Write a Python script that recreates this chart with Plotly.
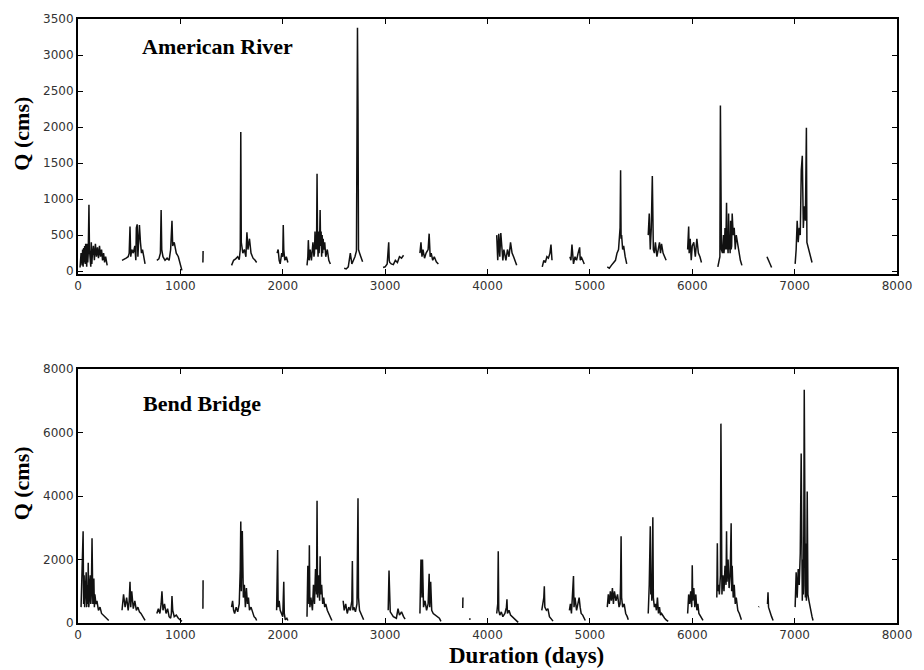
import plotly.graph_objects as go
from plotly.subplots import make_subplots

# ---------------- American River (cms) ----------------
am_day = [
    20,30,40,45,50,55,60,65,70,75,80,85,90,95,100,107,112,120,125,130,135,140,150,160,170,180,190,200,210,220,230,240,250,260,270,285, None,
    430,450,470,490,500,508,515,525,540,555,565,570,578,585,590,600,610,620,630,645,655, None,
    770,790,805,812,818,830,850,870,890,905,918,925,940,960,980,1000,1015, None,
    1220,1222, None,
    1500,1510,1520,1540,1560,1575,1585,1590,1595,1610,1625,1640,1650,1660,1675,1690,1710,1730,1745, None,
    1945,1955,1965,1975,1990,2000,2005,2010,2020,2035,2050, None,
    2237,2245,2250,2258,2268,2280,2295,2305,2310,2315,2320,2325,2330,2335,2340,2345,2350,2355,2360,2365,2370,2375,2380,2385,2390,2395,2400,2410,2420,2435,2450,2465,2480, None,
    2600,2620,2640,2660,2675,2690,2705,2720,2730,2735,2740,2750,2765,2780,2795, None,
    2980,3000,3020,3035,3040,3045,3060,3080,3100,3120,3140,3160,3180,3195, None,
    3340,3350,3360,3370,3385,3400,3420,3430,3440,3450,3465,3480,3500,3520,3540, None,
    3770,3780, None, 3826,3830, None, 3990,4000, None,
    4090,4100,4110,4120,4130,4140,4150,4160,4170,4180,4195,4210,4225,4240,4255,4270,4285,4300, None,
    4535,4550,4565,4580,4595,4610,4620,4630,4640, None,
    4805,4815,4825,4832,4840,4855,4870,4885,4900,4906,4915,4930,4945,4955, None,
    4995,5000, None,
    5170,5190,5210,5230,5250,5265,5280,5295,5300,5305,5310,5320,5330,5345,5360,5375, None,
    5570,5580,5590,5600,5610,5615,5620,5630,5640,5655,5670,5680,5690,5700,5715,5730,5745,5765, None,
    5955,5965,5970,5980,5990,6000,6015,6030,6045,6060,6075,6090,6105, None,
    6250,6260,6270,6275,6280,6285,6295,6305,6310,6315,6320,6325,6330,6335,6340,6345,6350,6355,6360,6365,6370,6375,6380,6385,6390,6400,6410,6420,6430,6440,6455,6470,6485,6500, None,
    6640,6650, None, 6730,6740,6750,6760,6775,6790, None,
    7005,7015,7025,7035,7045,7055,7065,7075,7085,7095,7105,7115,7120,7130,7140,7150,7160,7170,7180,
]
am_q = [
    50,250,80,300,60,320,120,350,100,380,200,60,380,120,250,920,300,180,60,400,100,220,350,150,380,200,330,180,350,200,300,150,250,120,200,80, None,
    150,160,180,200,250,620,200,300,250,350,150,600,650,200,300,640,400,250,300,150,100, None,
    150,170,250,850,300,200,150,180,150,300,700,350,400,250,200,80,10, None,
    120,280, None,
    80,120,150,170,200,160,300,1930,400,250,300,200,540,300,450,250,180,150,120, None,
    250,300,150,100,250,200,640,300,150,200,120, None,
    80,200,430,150,300,150,400,200,250,550,300,500,300,1350,450,200,550,250,400,850,350,550,200,500,250,450,300,400,200,300,150,100, None,
    20,40,30,60,250,100,150,200,280,3380,2250,300,250,200,130, None,
    30,50,60,100,400,150,120,100,90,150,120,200,180,220, None,
    150,250,400,200,300,180,250,300,520,200,250,150,200,130,100, None,
    30,60, None, 100,180, None, 40,90, None,
    100,500,150,520,200,530,250,150,300,200,150,300,200,400,250,200,150,80, None,
    20,60,150,120,200,180,250,370,150, None,
    100,200,150,370,200,100,200,150,250,330,150,200,150,100, None,
    20,100, None,
    30,60,40,80,120,150,250,300,600,1400,450,500,300,350,200,100, None,
    150,500,800,300,600,1320,500,300,250,400,200,350,400,250,380,250,200,150, None,
    50,300,620,250,450,150,350,400,200,450,250,200,120, None,
    20,60,120,200,2300,400,300,250,500,250,350,600,300,500,950,300,400,250,800,300,500,250,700,300,350,800,500,600,300,500,400,250,150,80, None,
    10,15, None, 120,200,160,130,100,50, None,
    20,100,300,700,400,600,500,1400,1600,600,900,700,1990,400,350,300,250,200,120,
]

# ---------------- Bend Bridge (cms) ----------------
bb_day = [
    30,40,50,55,60,65,70,75,80,85,90,95,100,105,110,115,120,125,130,137,145,150,155,160,165,175,185,200,215,230,245,260,280,300, None,
    430,445,460,475,490,500,508,515,525,540,555,570,585,600,615,630,645,655, None,
    770,785,800,812,820,830,845,860,875,890,905,912,918,925,940,960,980,1000,1015, None,
    1220,1222, None,
    1500,1510,1520,1530,1545,1560,1575,1585,1590,1595,1605,1615,1625,1635,1645,1655,1665,1675,1690,1705,1720,1735,1745, None,
    1940,1945,1950,1955,1965,1975,1990,2000,2010,2015,2025,2040,2050, None,
    2237,2245,2255,2260,2265,2275,2290,2300,2310,2320,2330,2335,2340,2350,2360,2365,2370,2380,2390,2400,2410,2420,2435,2450,2465,2480, None,
    2590,2600,2615,2630,2645,2660,2675,2680,2685,2695,2710,2725,2735,2740,2750,2765,2780,2790, None,
    3030,3038,3042,3050,3080,3110,3126,3140,3160,3180,3195, None,
    3340,3350,3360,3365,3375,3390,3405,3420,3430,3436,3445,3455,3470,3490,3510,3530,3545, None,
    3758,3760, None, 3826,3830, None,
    4090,4100,4105,4110,4120,4135,4150,4170,4185,4190,4195,4210,4225,4240,4260,4280,4300, None,
    4530,4540,4550,4555,4560,4575,4590,4605,4620,4640, None,
    4800,4810,4820,4830,4840,4845,4855,4870,4885,4895,4905,4915,4930,4945,4955, None,
    5170,5180,5190,5200,5210,5220,5230,5240,5255,5270,5285,5295,5300,5305,5310,5320,5335,5350,5365,5375, None,
    5570,5580,5590,5595,5600,5605,5610,5615,5620,5630,5640,5650,5660,5670,5680,5690,5700,5715,5730,5745,5765, None,
    5955,5965,5975,5985,5995,6000,6005,6015,6025,6035,6045,6055,6065,6080,6095,6105, None,
    6240,6245,6250,6258,6265,6275,6280,6285,6290,6300,6310,6320,6330,6335,6340,6350,6360,6370,6380,6385,6390,6400,6410,6420,6430,6445,6460,6480, None,
    6648,6652, None, 6735,6740,6745,6760,6775,6790, None,
    7005,7015,7025,7035,7045,7055,7064,7070,7075,7080,7085,7088,7094,7100,7105,7110,7115,7118,7123,7130,7140,7150,7160,7170,7180,
]
bb_q = [
    500,1800,2890,600,1500,500,800,1400,1600,500,1200,600,1900,500,700,1300,1500,600,900,2670,600,1200,1400,500,900,600,700,400,500,300,250,200,150,80, None,
    400,900,500,800,400,700,1300,500,1000,450,700,400,500,350,300,200,150,80, None,
    300,450,300,600,1000,400,600,300,450,200,150,300,850,400,200,250,150,100,50, None,
    450,1350, None,
    500,700,400,300,500,350,600,1700,3200,1000,2900,800,1200,500,1100,600,800,400,500,300,200,150,80, None,
    400,1200,2300,500,700,400,300,200,1300,300,100,150,80, None,
    200,1800,600,2450,500,800,400,1200,600,1700,900,3850,800,1500,700,2100,900,1200,600,800,500,600,400,300,200,80, None,
    700,400,600,300,500,400,700,1950,400,500,350,600,3930,800,400,300,200,100, None,
    400,1650,1200,350,200,150,450,250,350,200,120, None,
    300,2000,800,2000,500,700,400,600,1550,500,1300,400,300,250,200,150,50, None,
    470,800, None, 100,150, None,
    300,600,2260,400,250,350,200,300,500,750,300,400,250,200,150,80,20, None,
    400,600,800,1160,500,400,450,200,150,60, None,
    400,600,300,800,1480,500,800,400,600,800,500,300,250,150,80, None,
    500,900,600,1000,700,1100,600,1000,700,900,500,600,1300,2730,800,500,600,300,200,100, None,
    300,1200,3050,900,1500,700,2000,3330,800,500,600,400,800,300,500,250,300,200,150,100,50, None,
    300,900,600,1000,500,1820,700,1100,500,900,400,600,300,200,150,80, None,
    800,2510,1000,1200,900,1500,6280,1200,900,1500,1000,1800,1200,2890,1300,2000,1100,1500,3140,1000,1800,800,1200,600,800,400,300,100, None,
    500,520, None, 600,970,500,300,200,80, None,
    500,1600,800,1700,1200,2200,5340,1500,700,2000,900,1200,7350,1500,800,2500,700,1000,4140,900,700,500,300,200,80,
]

x_ticks = [0, 1000, 2000, 3000, 4000, 5000, 6000, 7000, 8000]
am_ticks = [0, 500, 1000, 1500, 2000, 2500, 3000, 3500]
bb_ticks = [0, 2000, 4000, 6000, 8000]

fig = make_subplots(rows=2, cols=1, vertical_spacing=0.157)
fig.add_trace(go.Scatter(x=am_day, y=am_q, mode="lines", connectgaps=False,
                         line=dict(color="#111111", width=1.5), showlegend=False), row=1, col=1)
fig.add_trace(go.Scatter(x=bb_day, y=bb_q, mode="lines", connectgaps=False,
                         line=dict(color="#111111", width=1.5), showlegend=False), row=2, col=1)

tick_font = dict(family="DejaVu Sans, sans-serif", size=12, color="#333333")
axis_common = dict(showline=True, linecolor="black", linewidth=2, mirror="ticks",
                   ticks="inside", ticklen=5, tickwidth=1, tickcolor="black",
                   showgrid=False, zeroline=False, tickfont=tick_font)

fig.update_xaxes(range=[0, 8000], tickvals=x_ticks, **axis_common)
fig.update_yaxes(range=[-40, 3500], tickvals=am_ticks, row=1, col=1, **axis_common)
fig.update_yaxes(range=[0, 8000], tickvals=bb_ticks, row=2, col=1, **axis_common)

fig.layout.yaxis.domain = [0.5778, 1.0]
fig.layout.yaxis2.domain = [0.0, 0.4205]

serif = "Liberation Serif, Times New Roman, serif"
annos = [
    dict(text="<b>American River</b>", x=0.170, y=0.955, size=22),
    dict(text="<b>Bend Bridge</b>", x=0.152, y=0.364, size=22),
    dict(text="<b>Q (cms)</b>", x=-0.069, y=0.811, textangle=-90, size=22),
    dict(text="<b>Q (cms)</b>", x=-0.069, y=0.232, textangle=-90, size=22),
    dict(text="<b>Duration (days)</b>", x=0.548, y=-0.053, size=23),
]
for a in annos:
    size = a.pop("size")
    fig.add_annotation(xref="paper", yref="paper", xanchor="center", yanchor="middle",
                       showarrow=False, font=dict(family=serif, size=size, color="black"), **a)

fig.update_layout(width=924, height=670, margin=dict(l=78, r=27, t=19, b=47),
                  plot_bgcolor="white", paper_bgcolor="white")

fig.write_html("out.html")
